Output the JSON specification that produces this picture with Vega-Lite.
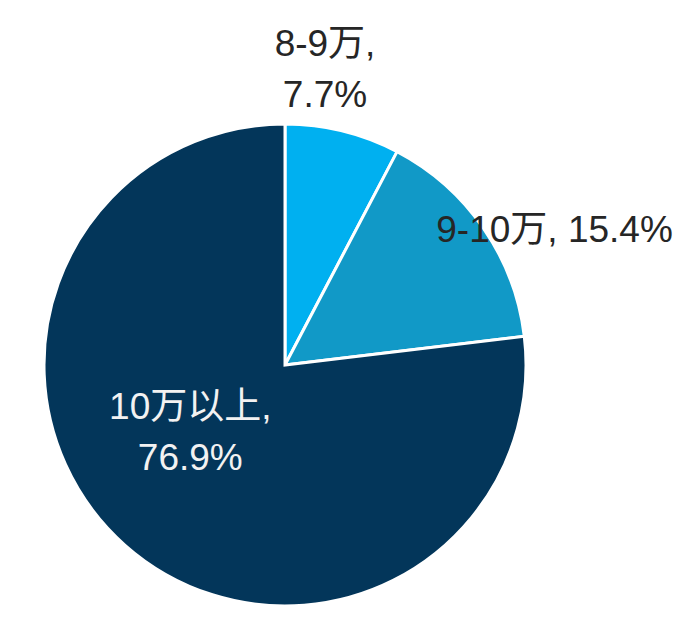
{
  "$schema": "https://vega.github.io/schema/vega-lite/v6.json",
  "autosize": {"type": "none"},
  "width": 570,
  "height": 510,
  "padding": {"left": 0, "top": 110, "right": 130, "bottom": 0},
  "background": "white",
  "data": {
    "values": [
      {"range": "8-9万", "share": 7.7, "order": 1, "label": "8-9万,\n7.7%"},
      {"range": "9-10万", "share": 15.4, "order": 2, "label": "9-10万, 15.4%"},
      {"range": "10万以上", "share": 76.9, "order": 3, "label": "10万以上,\n76.9%"}
    ]
  },
  "layer": [
    {
      "mark": {"type": "arc", "outerRadius": 241, "stroke": "white", "strokeWidth": 3},
      "encoding": {
        "theta": {"field": "share", "type": "quantitative", "stack": true},
        "order": {"field": "order", "type": "quantitative"},
        "color": {
          "field": "range",
          "type": "nominal",
          "scale": {"domain": ["8-9万", "9-10万", "10万以上"], "range": ["#00B0F0", "#1199C7", "#03365A"]},
          "legend": null
        }
      }
    },
    {
      "transform": [
        {"stack": "share", "groupby": [], "sort": [{"field": "order"}], "as": ["s0", "s1"]},
        {"filter": "datum.order == 1"}
      ],
      "mark": {"type": "text", "radius": 320, "dx": 40, "dy": 0, "fontSize": 37, "font": "Liberation Sans, Noto Sans CJK SC", "lineBreak": "\n", "lineHeight": 51, "align": "center", "baseline": "middle", "color": "#262626"},
      "encoding": {
        "theta": {"field": "s0", "type": "quantitative", "stack": null},
        "text": {"field": "label"}
      }
    },
    {
      "transform": [
        {"stack": "share", "groupby": [], "sort": [{"field": "order"}], "as": ["s0", "s1"]},
        {"filter": "datum.order == 2"}
      ],
      "mark": {"type": "text", "radius": 300, "dx": 130, "dy": 132, "fontSize": 37, "font": "Liberation Sans, Noto Sans CJK SC", "align": "center", "baseline": "middle", "color": "#262626"},
      "encoding": {
        "theta": {"field": "s0", "type": "quantitative", "stack": null},
        "text": {"field": "label"}
      }
    },
    {
      "transform": [
        {"stack": "share", "groupby": [], "sort": [{"field": "order"}], "as": ["s0", "s1"]},
        {"filter": "datum.order == 3"}
      ],
      "mark": {"type": "text", "radius": 100, "dx": -194, "dy": 55, "fontSize": 37, "font": "Liberation Sans, Noto Sans CJK SC", "lineBreak": "\n", "lineHeight": 51, "align": "center", "baseline": "middle", "color": "#F2F2F2"},
      "encoding": {
        "theta": {"field": "s0", "type": "quantitative", "stack": null},
        "text": {"field": "label"}
      }
    }
  ]
}
